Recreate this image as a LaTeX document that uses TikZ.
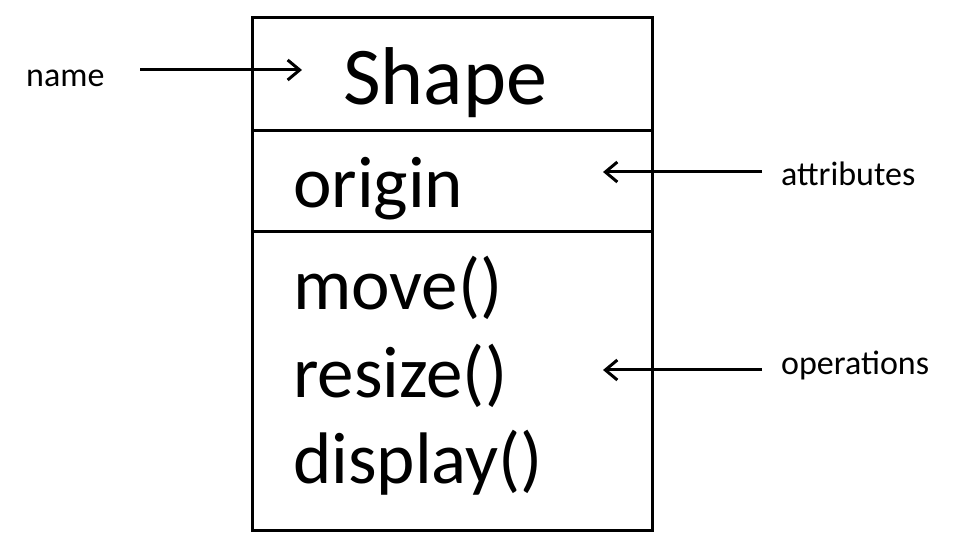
\documentclass[tikz,border=0pt]{standalone}
\usepackage{fontspec}
\setmainfont{Carlito}
\usetikzlibrary{arrows.meta}
\begin{document}
\begin{tikzpicture}[x=1pt,y=-1pt,
  big/.style={font=\fontsize{73}{80}\selectfont,anchor=base west,inner sep=0},
  lbl/.style={font=\fontsize{34}{40}\selectfont,anchor=base west,inner sep=0},
  arr/.style={line width=3pt,-{Straight Barb[length=12pt,width=20pt,line width=3pt]}}]
\useasboundingbox[fill=white] (0,0) rectangle (969,534);
\draw[line width=3pt] (252,18) rectangle (652,530);
\draw[line width=3pt] (252,131) -- (652,131);
\draw[line width=3pt] (252,232) -- (652,232);
\node[big,font=\fontsize{82}{90}\selectfont] (shape) at (343,105) {Shape};
\node[big] (origin) at (293,208) {origin};
\node[big] (move) at (293,310) {move()};
\node[big] (resize) at (293,397) {resize()};
\node[big] (display) at (293,483) {display()};
\node[lbl] (name) at (26,87) {name};
\node[lbl] (attr) at (781,186) {attributes};
\node[lbl] (ops) at (781,374) {operations};
\coordinate (n1) at (140,70); \coordinate (n2) at (302,70);
\coordinate (a1) at (762,172); \coordinate (a2) at (603,172);
\coordinate (o1) at (762,370); \coordinate (o2) at (603,370);
\draw[arr] (n1) -- (n2);
\draw[arr] (a1) -- (a2);
\draw[arr] (o1) -- (o2);
\end{tikzpicture}
\end{document}
